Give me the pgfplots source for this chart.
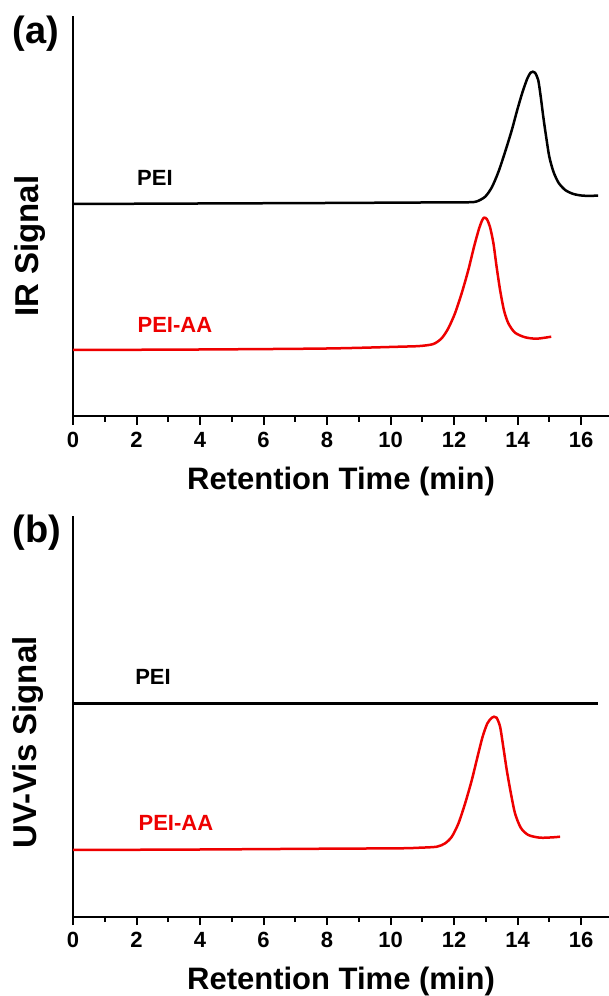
\documentclass[border=0pt]{standalone}
\usepackage{fontspec}
\setmainfont{Liberation Sans}
\usepackage{pgfplots}
\pgfplotsset{compat=1.18}
\definecolor{myred}{RGB}{238,0,0}
\pgfplotsset{
  myaxis/.style={
    scale only axis,
    width=536pt, height=400pt,
    xmin=0, xmax=16.88, ymin=0, ymax=400,
    axis x line=bottom, axis y line=left,
    axis line style={-, line width=2pt, black},
    xtick={0,2,...,16}, minor xtick={1,3,...,15},
    ytick=\empty,
    tick align=outside,
    major tick length=8.5pt, minor tick length=5.5pt,
    every tick/.style={black, line width=2pt},
    /pgf/number format/assume math mode=true,
    ticklabel style={font=\fontsize{22}{26}\selectfont\bfseries},
    xticklabel style={yshift=-4pt},
    xlabel={Retention Time (min)},
    xlabel style={font=\fontsize{31}{36}\selectfont\bfseries, at={(axis description cs:0.5,0)}, anchor=center, yshift=-65pt},
    ylabel style={font=\fontsize{33}{38}\selectfont\bfseries, anchor=center},
    clip=false,
  }
}
\begin{document}
\begin{tikzpicture}
\useasboundingbox (0,0) rectangle (609pt,996pt);
% ---------- panel (a)
\begin{axis}[myaxis, at={(73pt,579.5pt)}, anchor=south west,
  ylabel={IR Signal}, ylabel style={at={(axis description cs:-0.080,0.426)}}]
\addplot[black, line width=2.5pt, smooth, tension=0.45] coordinates {
(0,212.5) (4,213) (8,213.5) (11,214) (12.40,214.2) (12.71,215) (12.98,219.8)
(13.19,229.2) (13.40,244.8) (13.61,264.8) (13.82,286.5) (13.99,306.5)
(14.16,324.8) (14.31,338.2) (14.41,343.8) (14.48,344.8) (14.55,343.8)
(14.65,336.5) (14.73,319.8) (14.81,299.8) (14.90,279.8) (15.00,259.8)
(15.13,244.8) (15.29,233.8) (15.50,226.5) (15.76,222.5) (16.07,220.8) (16.54,220.8)};
\addplot[myred, line width=2.5pt, smooth, tension=0.45] coordinates {
(0,66.5) (4,67) (8,68) (10.30,69.8) (10.93,70.5) (11.35,72.5) (11.61,78.2)
(11.82,88.2) (12.03,103.2) (12.24,123.2) (12.45,146.5) (12.63,169.8)
(12.79,188.2) (12.89,196.5) (12.95,198.8) (13.03,197.5) (13.13,189.8)
(13.24,173.2) (13.34,149.8) (13.45,126.5) (13.57,106.5) (13.71,93.2)
(13.92,83.8) (14.24,79.2) (14.60,77.8) (15.06,79.8)};
\node[font=\fontsize{22}{26}\selectfont\bfseries] at (axis cs:2.58,238.5) {PEI};
\node[font=\fontsize{22}{26}\selectfont\bfseries, text=myred] at (axis cs:3.21,91.5) {PEI-AA};
\node[font=\fontsize{38}{44}\selectfont\bfseries] at (axis description cs:-0.069,0.956) {(a)};
\end{axis}
% ---------- panel (b)
\begin{axis}[myaxis, at={(73pt,79.5pt)}, anchor=south west,
  ylabel={UV-Vis Signal}, ylabel style={at={(axis description cs:-0.084,0.435)}}]
\addplot[black, line width=2.5pt] coordinates {
(0,213) (4,213) (8,213) (12,213) (16.54,213)};
\addplot[myred, line width=2.5pt, smooth, tension=0.45] coordinates {
(0,66.5) (4,67) (8,67.8) (10.30,68.2) (10.93,68.8) (11.46,69.8) (11.72,73.2)
(11.93,79.8) (12.14,93.2) (12.35,113.2) (12.56,136.5) (12.74,159.8)
(12.90,179.8) (13.05,193.2) (13.19,198.8) (13.26,199.8) (13.34,198.8)
(13.45,189.8) (13.55,169.8) (13.66,146.5) (13.79,123.2) (13.92,103.2)
(14.10,88.8) (14.34,81.5) (14.71,78.8) (15.13,79.2) (15.34,79.8)};
\node[font=\fontsize{22}{26}\selectfont\bfseries] at (axis cs:2.52,239.5) {PEI};
\node[font=\fontsize{22}{26}\selectfont\bfseries, text=myred] at (axis cs:3.24,93.5) {PEI-AA};
\node[font=\fontsize{38}{44}\selectfont\bfseries] at (axis description cs:-0.067,0.959) {(b)};
\end{axis}
\end{tikzpicture}
\end{document}
